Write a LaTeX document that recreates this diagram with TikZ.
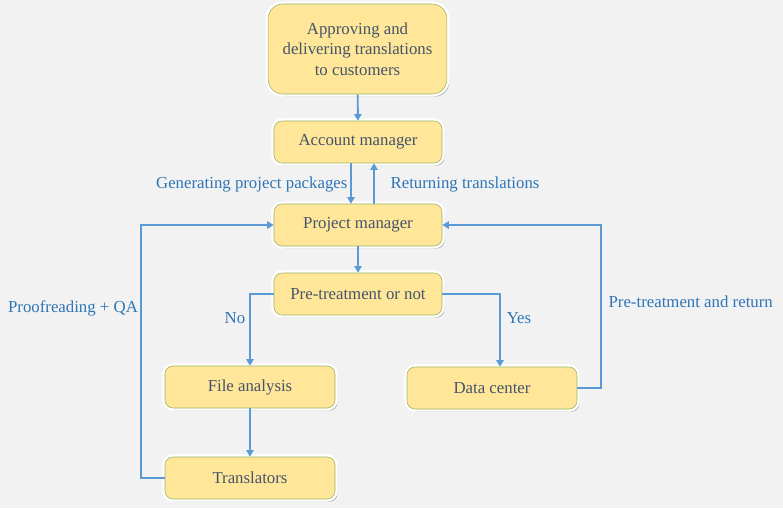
\documentclass[tikz,border=0pt]{standalone}
\usepackage{fontspec}
\setmainfont{Liberation Serif}
\usepackage{xcolor}
\usetikzlibrary{arrows.meta,shadows}
\definecolor{box-fill}{HTML}{FFE699}
\definecolor{box-line}{HTML}{97B35C}
\definecolor{box-text}{HTML}{44546A}
\definecolor{flow-line}{HTML}{5B9BD5}
\definecolor{flow-text}{HTML}{2E75B6}
\definecolor{page}{HTML}{F2F2F2}
\tikzset{
    rounded-box/.style = {draw=box-line, fill=box-fill, thin, rectangle, rounded corners=6pt, minimum width=126pt, minimum height=31.5pt, text=box-text, font=\fontsize{12.6}{15.5}\selectfont, drop shadow={shadow xshift=1.8pt, shadow yshift=-2pt, opacity=0.4, fill=black!70}, preaction={draw=white, line width=4pt}},
    flow-arrow/.style = {draw=flow-line, line width=1.4pt, -{Triangle[length=5pt,width=5.5pt]}},
    flow-label/.style = {text=flow-text, font=\fontsize{12.6}{15.5}\selectfont, inner sep=1pt},
}
\begin{document}
\begin{tikzpicture}[x=0.75pt,y=-0.75pt]
\fill[page] (0,0) rectangle (783,508);
\useasboundingbox (0,0) rectangle (783,508);
\node[rounded-box, minimum width=134pt, minimum height=67.5pt, rounded corners=11pt, align=center] (approve) at (357.5,49) {Approving and\\delivering translations\\to customers};
\node[rounded-box] (account) at (358,142) {Account manager};
\node[rounded-box] (project) at (358,225) {Project manager};
\node[rounded-box] (pretreat) at (358,294) {Pre-treatment or not};
\node[rounded-box, minimum width=127.5pt] (analysis) at (250,387) {File analysis};
\node[rounded-box, minimum width=127.5pt] (datacenter) at (492,388) {Data center};
\node[rounded-box, minimum width=127.5pt] (translators) at (250,478) {Translators};
\coordinate (return-corner) at (601,0);
\coordinate (qa-corner) at (141,0);
\draw[flow-arrow] (approve) -- (account);
\draw[flow-arrow] ([xshift=-5.25pt]account.south) -- ([xshift=-5.25pt]project.north);
\draw[flow-arrow] ([xshift=12pt]project.north) -- ([xshift=12pt]account.south);
\draw[flow-arrow] (project) -- (pretreat);
\draw[flow-arrow] (pretreat.west) -| (analysis.north);
\draw[flow-arrow] (pretreat.east) -| ([xshift=6pt]datacenter.north);
\draw[flow-arrow] (analysis) -- (translators);
\draw[flow-arrow] (datacenter.east) -| (return-corner |- project.east) -- (project.east);
\draw[flow-arrow] (translators.west) -| (qa-corner |- project.west) -- (project.west);
\node[flow-label, anchor=east] (generating) at (349,184) {Generating project packages};
\node[flow-label, anchor=west] (returning) at (389,184) {Returning translations};
\node[flow-label] (no) at (235,318) {No};
\node[flow-label] (yes) at (519,318) {Yes};
\node[flow-label, anchor=west] (pretreat-return) at (607,302) {Pre-treatment and return};
\node[flow-label] (proofreading) at (73,308) {Proofreading + QA};
\end{tikzpicture}
\end{document}
